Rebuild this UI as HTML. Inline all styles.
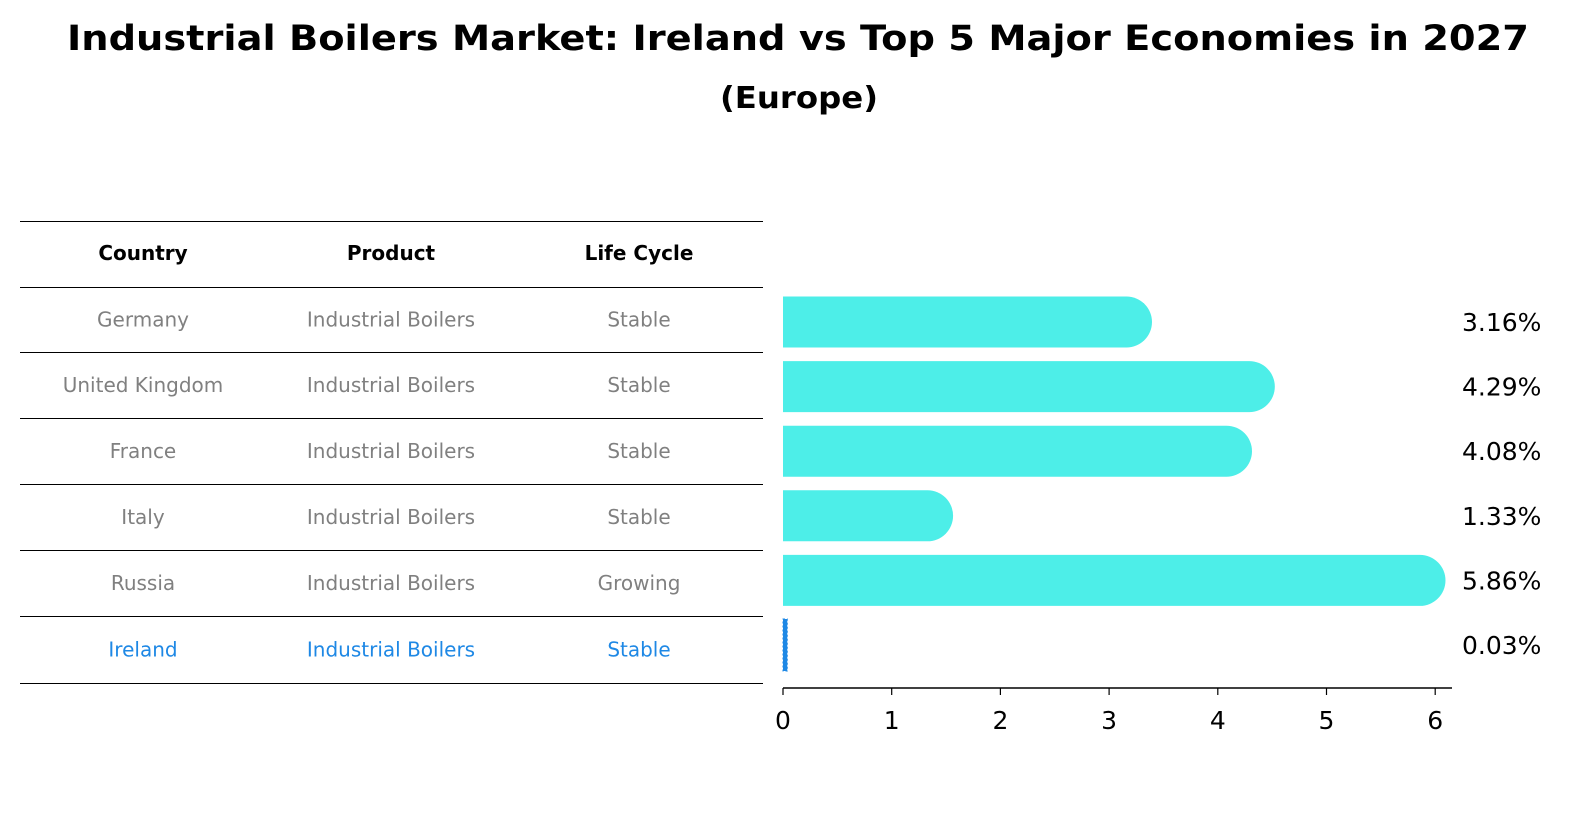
<!DOCTYPE html>
<html><head><meta charset="utf-8"><style>
body{margin:0;background:#fff;width:1586px;height:823px;overflow:hidden;font-family:"DejaVu Sans","Liberation Sans",sans-serif;}
</style></head><body>
<svg width="1586" height="823" xmlns="http://www.w3.org/2000/svg">
<text x="798" y="50" text-anchor="middle" font-size="35" font-weight="bold" textLength="1462" lengthAdjust="spacingAndGlyphs">Industrial Boilers Market: Ireland vs Top 5 Major Economies in 2027</text>
<text x="799" y="108" text-anchor="middle" font-size="30" font-weight="bold" textLength="158" lengthAdjust="spacingAndGlyphs">(Europe)</text>
<g id="table"></g>
<g id="bars"></g>
</svg>
<script>
const countries=["Germany","United Kingdom","France","Italy","Russia","Ireland"];
const products=["Industrial Boilers","Industrial Boilers","Industrial Boilers","Industrial Boilers","Industrial Boilers","Industrial Boilers"];
const lifeCycles=["Stable","Stable","Stable","Stable","Growing","Stable"];
const values=[3.16,4.29,4.08,1.33,5.86,0.03];
const xTicks=[0,1,2,3,4,5,6];
const NS="http://www.w3.org/2000/svg";
function mk(tag,attrs,parent,text){const e=document.createElementNS(NS,tag);for(const k in attrs)e.setAttribute(k,attrs[k]);if(text!==undefined)e.textContent=text;parent.appendChild(e);return e;}
const tbl=document.getElementById('table');
const lineYs=[221,287,352,418,484,550,616,683];
lineYs.forEach(y=>{const l=mk('line',{x1:20,x2:763,y1:y+0.5,y2:y+0.5,stroke:'#000','stroke-width':1,'shape-rendering':'crispEdges'},tbl);

});
const colX=[143,391,639];
["Country","Product","Life Cycle"].forEach((h,i)=>{const t=mk('text',{x:colX[i],y:260,'text-anchor':'middle','font-size':20,'font-weight':'bold'},tbl,h);

});
countries.forEach((c,r)=>{const y=(lineYs[r+1]+lineYs[r+2])/2+7;const col=c==="Ireland"?'#1e88e5':'#808080';
[c,products[r],lifeCycles[r]].forEach((v,i)=>{const t=mk('text',{x:colX[i],y:y,'text-anchor':'middle','font-size':20,fill:col},tbl,v);

});});
const g=document.getElementById('bars');
const x0=783,unit=108.7;const xs=v=>x0+v*unit;
const rowY=i=>322+i*64.6;const bh=51;
values.forEach((v,i)=>{const cy=rowY(i);
if(countries[i]==="Ireland"){
const b=mk('rect',{x:x0,y:cy-26,width:Math.max(3,xs(v)-x0+1),height:52,fill:'#1e88e5',stroke:'#1e88e5','stroke-width':1,'stroke-dasharray':'2 2'},g);


}else{
const xe=xs(v),r=bh/2;
const b=mk('path',{d:`M${x0},${cy-r} L${xe},${cy-r} A${r},${r} 0 0 1 ${xe},${cy+r} L${x0},${cy+r} Z`,fill:'#4deee8'},g);

}
const t=mk('text',{x:1462,y:cy+9,'font-size':25},g,v.toFixed(2)+'%');

});
const ax=mk('line',{x1:x0,x2:1452,y1:688,y2:688,stroke:'#000','stroke-width':1.5},g);


xTicks.forEach(v=>{const tk=mk('line',{x1:xs(v),x2:xs(v),y1:688,y2:695,stroke:'#000','stroke-width':1.2},g);


const t=mk('text',{x:xs(v),y:729,'text-anchor':'middle','font-size':25},g,String(v));

});
</script>
</body></html>
